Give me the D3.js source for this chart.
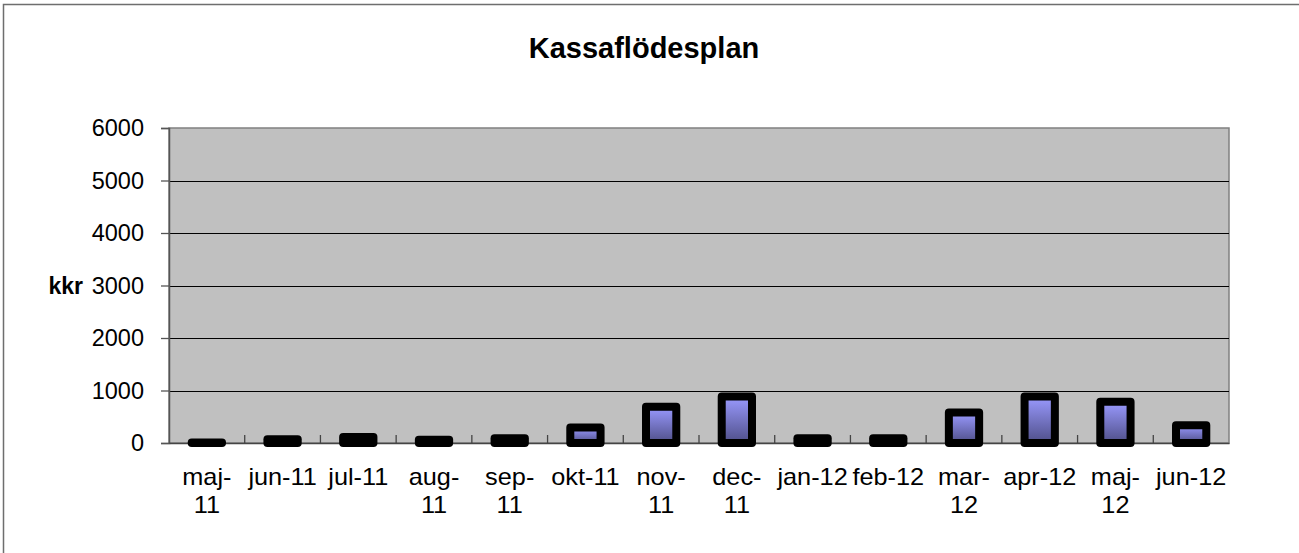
<!DOCTYPE html>
<html>
<head>
<meta charset="utf-8">
<script src="https://cdn.jsdelivr.net/npm/d3@7"></script>
<style>
    body { margin: 0; background: #fff; }
    text { font-family: "Liberation Sans", Arial, sans-serif; }
</style>
</head>
<body>
<svg id="chart" width="1299" height="553"></svg>
<script>
var months = ["maj-11", "jun-11", "jul-11", "aug-11", "sep-11", "okt-11", "nov-11",
    "dec-11", "jan-12", "feb-12", "mar-12", "apr-12", "maj-12", "jun-12"];
// how the labels wrap in the original
var monthLines = [["maj-", "11"], ["jun-11"], ["jul-11"], ["aug-", "11"], ["sep-", "11"], ["okt-11"], ["nov-", "11"],
    ["dec-", "11"], ["jan-12"], ["feb-12"], ["mar-", "12"], ["apr-12"], ["maj-", "12"], ["jun-12"]];
var kassa = [10, 70, 115, 60, 90, 295, 690, 885, 90, 90, 580, 885, 785, 340];
var yTicks = [0, 1000, 2000, 3000, 4000, 5000, 6000];
var chartTitle = "Kassaflödesplan";
var yTitle = "kkr";

var plotLeft = 169, plotRight = 1229, plotTop = 128, plotBottom = 443;

var svg = d3.select("#chart");

// outer frame (only top and left show in the picture)
svg.append("rect")
    .attr("x", 3.5).attr("y", 4.5)
    .attr("width", 1310).attr("height", 570)
    .attr("fill", "#fff")
    .attr("stroke", "#6e6e6e")
    .attr("stroke-width", 1.5);

var x = d3.scaleBand().domain(months).range([plotLeft, plotRight]).paddingInner(0).paddingOuter(0);
var y = d3.scaleLinear().domain([0, 6000]).range([plotBottom, plotTop]);

// plot area
svg.append("rect")
    .attr("x", plotLeft).attr("y", plotTop)
    .attr("width", plotRight - plotLeft).attr("height", plotBottom - plotTop)
    .attr("fill", "#c0c0c0")
    .attr("stroke", "#808080")
    .attr("stroke-width", 1.5);

// grid
svg.append("g").selectAll("line")
    .data(yTicks.filter(function(d) { return d > 0 && d < 6000; }))
    .enter().append("line")
    .attr("x1", plotLeft).attr("x2", plotRight)
    .attr("y1", function(d) { return Math.round(y(d)) + 0.5; })
    .attr("y2", function(d) { return Math.round(y(d)) + 0.5; })
    .attr("stroke", "#000")
    .attr("stroke-width", 1);

// y axis
var yAxis = d3.axisLeft(y).tickValues(yTicks).tickFormat(d3.format("d")).tickSize(8).tickPadding(17);
var gy = svg.append("g").attr("transform", "translate(" + plotLeft + ",0)").call(yAxis);
gy.select(".domain").attr("stroke", "#555").attr("stroke-width", 1.5);
gy.selectAll(".tick line").attr("stroke", "#555").attr("stroke-width", 1.3);
gy.selectAll(".tick text")
    .attr("font-size", 23.5)
    .attr("fill", "#000")
    .style("font-family", "'Liberation Sans', Arial, sans-serif");

// x axis: ticks between the categories, pointing up into the plot
var xAxis = d3.axisBottom(x).tickSize(0).tickFormat("");
var gx = svg.append("g").attr("transform", "translate(0," + plotBottom + ")").call(xAxis);
gx.select(".domain").attr("stroke", "#444").attr("stroke-width", 1.5);
gx.selectAll(".catTick")
    .data(months.slice(1))
    .enter().append("line")
    .attr("class", "catTick")
    .attr("x1", function(d) { return x(d); })
    .attr("x2", function(d) { return x(d); })
    .attr("y1", 0).attr("y2", -8)
    .attr("stroke", "#444")
    .attr("stroke-width", 1.3);

var labels = svg.append("g").selectAll("text")
    .data(months)
    .enter().append("text")
    .attr("text-anchor", "middle")
    .attr("font-size", 23)
    .attr("fill", "#000")
    .attr("transform", function(d) {
        return "translate(" + (x(d) + x.bandwidth() / 2) + ",485) scale(1.1,1)";
    });
labels.each(function(d, i) {
    var t = d3.select(this);
    monthLines[i].forEach(function(line, k) {
        t.append("tspan").attr("x", 0).attr("y", k * 28).text(line);
    });
});

// bars
var defs = svg.append("defs");
var grad = defs.append("linearGradient")
    .attr("id", "barFill")
    .attr("x1", 0).attr("y1", 0).attr("x2", 0).attr("y2", 1);
grad.append("stop").attr("offset", "0%").attr("stop-color", "#9a9aff");
grad.append("stop").attr("offset", "100%").attr("stop-color", "#4f4f88");

var barWidth = x.bandwidth() / 2.5;
svg.append("g").selectAll("rect")
    .data(kassa)
    .enter().append("rect")
    .attr("x", function(d, i) { return x(months[i]) + (x.bandwidth() - barWidth) / 2; })
    .attr("y", function(d) { return y(d); })
    .attr("width", barWidth)
    .attr("height", function(d) { return y(0) - y(d); })
    .attr("fill", "url(#barFill)")
    .attr("stroke", "#000")
    .attr("stroke-width", 8)
    .attr("stroke-linejoin", "round");

// titles
svg.append("text")
    .attr("x", 644).attr("y", 58)
    .attr("text-anchor", "middle")
    .attr("font-size", 29)
    .attr("font-weight", "bold")
    .text(chartTitle);

svg.append("text")
    .attr("x", 83).attr("y", y(3000) + 8)
    .attr("text-anchor", "end")
    .attr("font-size", 23)
    .attr("font-weight", "bold")
    .text(yTitle);
</script>
</body>
</html>
